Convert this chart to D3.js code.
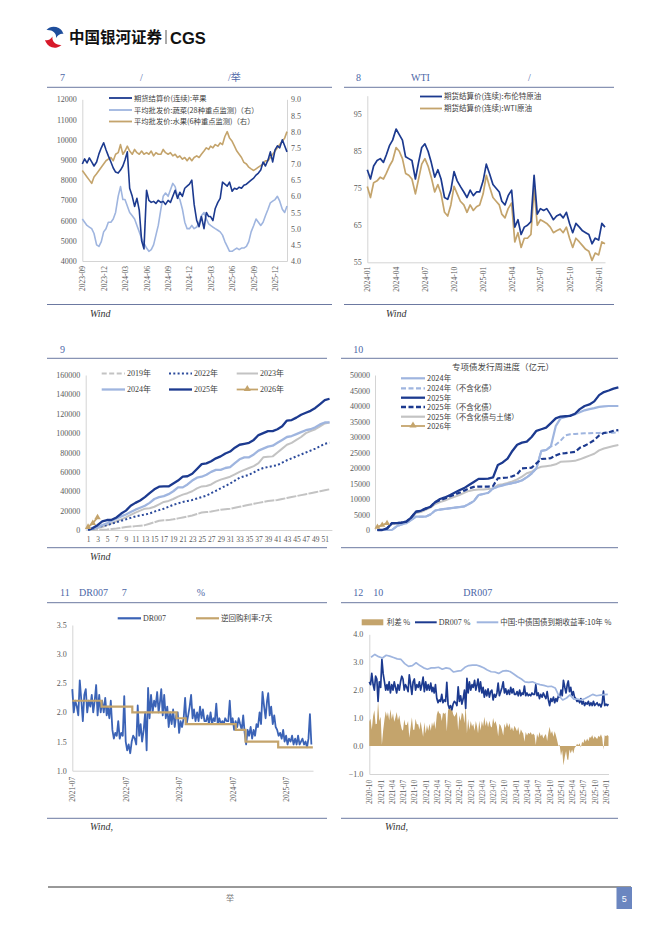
<!DOCTYPE html>
<html>
<head>
<meta charset="utf-8">
<script src="https://cdn.jsdelivr.net/npm/d3@7"></script>
<style>
  body { margin: 0; background: #fff; }
</style>
</head>
<body>
<svg id="page" width="662" height="936"></svg>
<script>
'use strict';

var NAVY = '#1c3a8f';
var LIGHT = '#9fb5df';
var GOLD = '#c4a46c';
var GRAY = '#c3c3c3';
var MID = '#3b63b6';
var TITLE = '#4d67a7';
var RULE = '#5b6a96';
var TICK = '#595959';
var AXIS = '#d4d4d4';
var SERIF = "'Liberation Serif','Noto Sans CJK SC',serif";
var CJK = "'Noto Sans CJK SC','Liberation Serif',sans-serif";

// ---------- data ----------
// Fig 7: apple futures (left), vegetable / fruit wholesale prices (right); 3 points per month from 2023-09
var appleFut = [8800,9050,8850, 9100,8900,8700, 8900,9300,9600, 9850,9500,9200,
  8900,8600,8400, 8350,8500,8700, 9000,9400,7600, 7200,6700,7100, 6500,5000,4600, 7500,7000,6900,
  6950,6850,7000, 6900,6950,6800, 7000,6900,7200, 7500,7100,7400, 7200,7600,7700, 7800,8000,6800,
  6000,5700,6200, 5600,6400,6200, 6200,6000,6600, 6900,7100,7900, 7800,7700,7900, 7450,7600,7550,
  7650,7600,7750, 7800,7900,8000, 8100,8250,8350, 8500,8900,8700, 9000,9400,8900, 9500,9700,9600,
  10000,9700,9400];
var vegPrice = [5.3,5.2,5.1, 5.05,5.0,4.85, 4.5,4.45,4.6, 4.9,5.0,5.2,
  5.2,5.3,5.5, 6.0,6.3,5.9, 5.9,5.7,5.5, 5.4,5.3,5.1, 4.9,4.7,4.55, 4.4,4.3,4.35,
  4.5,4.8,5.1, 5.6,6.0,6.1, 6.0,6.2,6.4, 6.3,6.0,5.9, 5.6,5.2,5.0, 5.0,5.1,5.0,
  5.05,5.2,5.4, 5.5,5.3,5.15, 5.1,5.05,5.0, 4.95,4.9,4.8, 4.6,4.45,4.3, 4.3,4.35,4.4,
  4.35,4.4,4.4, 4.45,4.6,4.9, 5.1,5.3,5.2, 5.1,5.2,5.4, 5.6,5.8,5.85, 5.9,6.0,5.85,
  5.6,5.5,5.7];
var fruitPrice = [6.8,6.7,6.6, 6.5,6.4,6.6, 6.7,6.8,6.9, 7.0,7.1,7.15,
  7.2,7.1,7.3, 7.35,7.6,7.3, 7.4,7.55,7.4, 7.3,7.45,7.35, 7.3,7.4,7.3, 7.35,7.3,7.4,
  7.25,7.35,7.3, 7.3,7.45,7.35, 7.3,7.35,7.25, 7.3,7.2,7.25, 7.15,7.2,7.1, 7.2,7.1,7.2,
  7.25,7.2,7.3, 7.4,7.5,7.45, 7.55,7.5,7.6, 7.55,7.65,7.6, 7.85,8.0,7.8, 7.7,7.55,7.4,
  7.3,7.2,7.05, 7.0,6.9,6.85, 6.8,6.85,6.9, 6.95,7.0,7.1, 7.1,7.2,7.3, 7.4,7.5,7.6,
  7.7,7.8,8.0];
var p7Left = [4000,5000,6000,7000,8000,9000,10000,11000,12000];
var p7Right = [4.0,4.5,5.0,5.5,6.0,6.5,7.0,7.5,8.0,8.5,9.0];
var p7Legend = ['期货结算价(连续):苹果', '平均批发价:蔬菜(28种重点监测)（右）', '平均批发价:水果(6种重点监测)（右）'];

// Fig 8: Brent / WTI, 3 points per month from 2024-01
var brent = [80,77.5,81, 82.5,83,82, 84,86.5,88, 91,89.5,88, 83.5,83,82.5, 77.5,82,86,
  87,85,82, 78,80,77.5, 72.5,72,74.5, 79.5,77,75.5, 74,72.5,74.5, 73,74,74,
  77,81.5,79, 76,75,74, 71.5,70.5,73, 74.5,64.5,66.5, 62.5,64.5,65, 66,78.5,68,
  69.5,69,69.5, 68,66.5,67.5, 68,67,68.5, 65.5,63,65.5, 64.5,63.5,63, 62.5,60,61.5,
  61,65.5,64.5];
var wti = [75.5,72.5,76.5, 77,78,77.5, 79,81,82.5, 86,85,83, 79,78.5,77.5, 73.5,77.5,81.5,
  83,81,78, 74,76,73.5, 68.5,67.5,70.5, 75.5,73.5,71.5, 70.5,68.5,70.5, 69,70,70.5,
  73.5,78.5,75.5, 72.5,71.5,70.5, 68,67,69.5, 71,60.5,63, 59,61.5,61.5, 62.5,75,65,
  66.5,66,65.5, 64.5,63,63.5, 64,63,64.5, 61.5,59,61.5, 60.5,59.5,58.5, 58,55.5,57.5,
  57,60.5,60];
var p8Ticks = [55,65,75,85,95];
var p8Legend = ['期货结算价(连续):布伦特原油', '期货结算价(连续):WTI原油'];

// Fig 9: cumulative weekly issuance
var p9Years = ['2019年','2022年','2023年','2024年','2025年','2026年'];
var p9y2019 = [0,0,200,300,500,1000,1500,2200,3000,3500,4000,4500,5000,6500,8000,9500,10000,10200,11000,12000,
  13000,14000,15000,16500,18000,18500,19000,20000,21000,21500,22000,23000,24000,25000,26000,27000,28000,29000,30000,30500,
  31000,32000,33000,34000,35000,36000,37000,38000,39000,40000,41000,42000];
var p9y2022 = [0,1000,3000,4000,5000,6500,8000,9500,11000,12500,14000,15000,16000,17000,19000,20500,22000,24000,26000,27500,
  29000,30000,31000,32500,34000,35500,38000,40500,43000,45500,48000,51000,54000,55500,57000,59500,62000,64000,65000,66000,
  67000,69500,72000,74000,76000,78000,80000,82000,84000,86500,89000,90000];
var p9y2023 = [0,500,2000,3000,5000,7000,9000,11000,13000,15500,18000,20000,22000,22500,24000,26500,29000,30000,32000,34500,
  36500,38000,40000,43000,45000,45500,47000,50000,52000,53500,55000,57500,60000,62000,64000,66000,69000,75000,75500,76000,
  80000,84000,88000,90000,93000,96000,100000,102000,104000,107000,110000,111000];
var p9y2024 = [0,1500,3000,5000,7000,9500,12000,14000,16000,18500,21000,23000,25000,28000,32000,34000,35000,37000,40000,44000,
  44000,47000,51000,54000,55000,57000,60000,62000,62000,64000,65000,69000,73000,75000,75000,78000,82000,84000,86000,87000,
  90000,93000,96000,97000,99000,101000,103000,104000,106000,109000,111000,111000];
var p9y2025 = [0,2000,5000,9000,10300,10500,13000,17000,20000,25000,28000,30500,34000,38000,42000,44700,45000,45000,48000,51000,
  55000,55500,58000,63000,68000,68800,71000,74000,76000,79000,81000,85000,88000,89000,90000,93000,98000,100000,102000,102000,
  104000,107000,113000,113500,116000,119000,121000,123000,126000,130000,134000,135500];
var p9y2026 = [3000,7000,13000];
var p9Ticks = [0,20000,40000,60000,80000,100000,120000,140000,160000];

// Fig 10: special bond weekly progress
var p10Title = '专项债发行周进度（亿元）';
var p10Legend = ['2024年','2024年（不含化债）','2025年','2025年（不含化债）','2025年（不含化债与土储）','2026年'];
var p10y2024 = [0,0,0,0,1200,1800,2200,3200,4300,4300,4300,5000,6300,6600,6800,7000,7200,7400,7600,8400,
  9300,11300,11600,12000,13400,14000,14400,14800,15100,15500,16000,17000,18200,19900,25500,25800,27000,33500,36000,36500,
  37000,37300,38000,38600,39000,39300,39700,39900,40000,40000,40000];
var p10y2024ex = [0,0,0,0,1200,1800,2200,3200,4300,4300,4300,5000,6300,6600,6800,7000,7200,7400,7600,8400,
  9300,11300,11600,12000,13400,14000,14400,14800,15100,15500,16000,17000,18200,19900,25500,25800,27000,27500,28800,30500,
  30900,31000,31100,31200,31200,31300,31300,31400,31400,31400,31500];
var p10y2025 = [0,0,500,2200,2200,2400,2700,4000,5900,6200,6900,7500,9000,10000,10500,11200,12000,12800,13500,14500,
  15500,16500,16500,16600,17000,21000,21800,23000,25500,27500,28200,28500,30000,32000,32500,33000,34500,36000,36600,36700,
  36800,37500,39000,40000,40500,41500,43500,44500,45000,45600,46000];
var p10y2025ex = [0,0,500,2200,2200,2400,2700,4000,5900,6200,6900,7500,9000,9600,10200,10800,11400,12000,12700,13400,
  13900,14000,14000,14000,14200,16700,16800,17000,17300,18000,19900,20000,20100,21500,22900,23000,23200,24000,24700,24800,
  25000,25200,26500,27200,28000,29000,30500,31300,31500,32000,32200];
var p10y2025ex2 = [0,0,500,2000,2000,2200,2600,3800,5500,5800,6500,7200,8400,9000,9500,10100,10700,11300,12000,12600,
  12900,13100,13100,13200,13400,14500,14800,15200,15700,16300,17200,18300,18800,19800,20400,20600,20800,21200,22000,22100,
  22200,22300,22800,23400,24000,24600,25700,26300,26700,27100,27400];
var p10y2026 = [1000,1600,2200];
var p10Ticks = [0,5000,10000,15000,20000,25000,30000,35000,40000,45000,50000];

// Fig 11/12: DR007, 3 points per month from 2020-10
var dr007 = [2.3,2.2,2.6, 2.2,2.0,2.5, 2.4,1.6,2.3,
  2.1,3.1,2.6, 2.3,2.0,2.2, 2.0,2.3,1.9, 2.2,2.0,2.3, 2.1,1.9,2.2, 2.0,2.3,2.5,
  2.4,2.0,2.2, 2.1,1.95,2.55, 2.2,1.85,2.3, 2.4,2.0,2.2, 2.1,2.3,2.0, 2.2,2.47,1.95,
  2.3,2.0,2.2, 2.0,2.25,1.95, 2.1,1.9,2.2, 1.7,1.55,1.65, 1.6,1.85,1.55, 1.65,1.6,2.28,
  1.5,1.35,1.45, 1.3,1.5,1.6, 1.55,1.45,2.12, 1.6,1.8,1.5, 1.7,2.0,1.35, 2.42,1.9,2.3,
  2.0,2.2,2.1, 2.35,2.0,2.2, 2.4,1.95,2.3, 1.9,2.1,1.75, 2.0,1.8,2.05, 1.75,1.95,2.0,
  1.65,1.85,1.75, 1.9,2.25,1.8, 1.95,2.1,2.3, 1.9,2.05,1.85, 2.0,1.85,2.1, 1.9,2.05,1.85,
  1.85,1.95,1.8, 2.0,1.8,1.9, 1.85,2.15,1.8, 1.9,1.8,1.85, 1.8,1.9,1.85, 1.85,2.2,1.8,
  1.9,1.7,1.85, 1.75,1.9,1.8, 1.7,1.95,1.65, 1.45,1.7,1.6, 1.75,1.55,1.7, 1.6,1.8,1.75,
  2.0,1.8,2.35, 2.1,1.9,2.2, 2.33,1.95,2.1, 1.8,1.95,1.75, 1.7,1.6,1.65, 1.55,1.7,1.5,
  1.6,1.45,1.55, 1.5,1.6,1.45, 1.55,1.45,1.6, 1.45,1.5,1.55, 1.45,1.5,1.4, 1.55,1.97,1.45,
  1.5,1.45,1.5];
var spread = [0.88,0.98,0.58, 1.08,1.28,0.78, 0.8,1.6,0.9,
  1.05,0.05,0.55, 0.95,1.25,1.05, 1.22,0.92,1.32, 0.97,1.17,0.87, 1.02,1.22,0.92, 1.1,0.8,0.6,
  0.55,0.95,0.75, 0.75,0.9,0.3, 0.68,1.03,0.58, 0.58,0.98,0.78, 0.78,0.58,0.88, 0.6,0.33,0.85,
  0.45,0.75,0.55, 0.8,0.55,0.85, 0.7,0.9,0.6, 1.12,1.27,1.17, 1.15,0.9,1.2, 1.15,1.2,0.52,
  1.27,1.42,1.32, 1.35,1.15,1.05, 1.13,1.23,0.56, 1.1,0.9,1.2, 1.12,0.82,1.47, 0.46,0.98,0.58,
  0.9,0.7,0.8, 0.55,0.9,0.7, 0.46,0.91,0.56, 0.9,0.7,1.05, 0.72,0.92,0.67, 0.91,0.71,0.66,
  1.0,0.8,0.9, 0.7,0.35,0.8, 0.73,0.58,0.38, 0.8,0.65,0.85, 0.67,0.82,0.57, 0.68,0.53,0.73,
  0.63,0.53,0.68, 0.4,0.6,0.5, 0.45,0.15,0.5, 0.38,0.48,0.43, 0.5,0.4,0.45, 0.39,0.04,0.44,
  0.3,0.5,0.35, 0.42,0.27,0.37, 0.43,0.18,0.48, 0.69,0.44,0.54, 0.33,0.53,0.38, 0.2,0.0,0.05,
  -0.35,-0.15,-0.7, -0.38,-0.18,-0.48, -0.5,-0.12,-0.27, -0.12,-0.27,-0.07, -0.02,0.08,0.03, 0.1,-0.05,0.15,
  0.1,0.25,0.15, 0.27,0.17,0.32, 0.3,0.4,0.25, 0.35,0.3,0.25, 0.37,0.32,0.42, 0.29,-0.13,0.39,
  0.35,0.4,0.35];
// 10Y CGB yield, monthly from 2020-10
var cgb10y = [3.18,3.28,3.2,
  3.15,3.25,3.22,3.17,3.12,3.1,2.95,2.85,2.88,2.98,2.88,2.8,
  2.75,2.8,2.8,2.82,2.75,2.8,2.77,2.65,2.68,2.7,2.82,2.88,
  2.9,2.9,2.86,2.8,2.72,2.66,2.65,2.6,2.68,2.7,2.67,2.58,
  2.48,2.4,2.3,2.28,2.3,2.24,2.2,2.17,2.13,2.14,2.08,1.8,
  1.65,1.72,1.83,1.68,1.68,1.65,1.7,1.77,1.85,1.8,1.82,1.84,
  1.85];
var repoDates = ['2021-07-01','2022-01-17','2022-08-15','2023-06-13','2023-08-15','2024-07-22','2024-09-27','2025-05-08','2025-12-31'];
var repoRates = [2.2,2.1,2.0,1.9,1.8,1.7,1.5,1.4,1.4];
var p11Ticks = [1.0,1.5,2.0,2.5,3.0,3.5];
var p12Ticks = [-1,0,1,2,3,4];
var p12Legend = ['利差 %', 'DR007 %', '中国:中债国债到期收益率:10年 %'];

// ---------- helpers ----------
var parse = d3.timeParse('%Y-%m-%d');
var intFmt = d3.format('d');
var oneFmt = d3.format('.1f');
var svg = d3.select('#page');

function tenDay(y, m, n) {
  return d3.range(n).map(function(i) { return new Date(y, m + Math.floor(i / 3), 1 + 10 * (i % 3)); });
}

function txt(x, y, s, size, fill, font, anchor) {
  return svg.append('text').attr('x', x).attr('y', y)
    .attr('font-family', font || SERIF).attr('font-size', size)
    .attr('fill', fill || '#333').attr('text-anchor', anchor || 'start').text(s);
}

function frame(x1, x2, titleY, ruleY, bottomY, titles) {
  titles.forEach(function(t) { txt(t[0], titleY, t[1], 10, TITLE); });
  svg.append('line').attr('x1', x1).attr('x2', x2).attr('y1', ruleY).attr('y2', ruleY).attr('stroke', RULE).attr('stroke-width', 0.9);
  svg.append('line').attr('x1', x1).attr('x2', x2).attr('y1', bottomY).attr('y2', bottomY).attr('stroke', RULE).attr('stroke-width', 0.9);
}

function wind(x, y, s) {
  txt(x, y, s, 10, '#333').attr('font-style', 'italic');
}

function styleAxis(g, size) {
  g.attr('font-family', SERIF).attr('font-size', size);
  g.select('.domain').attr('stroke', AXIS);
  g.selectAll('text').attr('fill', TICK);
}

function yAxis(scale, ticks, x, pad, fmt, right) {
  var ax = (right ? d3.axisRight(scale) : d3.axisLeft(scale)).tickValues(ticks).tickSize(0).tickSizeOuter(0).tickPadding(pad).tickFormat(fmt);
  var g = svg.append('g').attr('transform', 'translate(' + x + ',0)').call(ax);
  styleAxis(g, 8);
  return g;
}

function dateAxis(scale, ticks, y, pad, size) {
  var g = svg.append('g').attr('transform', 'translate(0,' + y + ')')
    .call(d3.axisBottom(scale).tickValues(ticks).tickSize(0).tickSizeOuter(0).tickFormat(d3.timeFormat('%Y-%m')));
  styleAxis(g, size);
  g.selectAll('text').attr('transform', 'rotate(-90)').attr('text-anchor', 'end')
    .attr('x', -pad).attr('y', 0).attr('dy', '0.33em');
  return g;
}

function series(parent, xs, ys, xv, yv, color, width, dash) {
  var line = d3.line().x(function(d, i) { return xs(xv[i]); }).y(function(d) { return ys(d); });
  return parent.append('path').datum(yv).attr('d', line).attr('fill', 'none')
    .attr('stroke', color).attr('stroke-width', width).attr('stroke-linejoin', 'round')
    .attr('stroke-dasharray', dash || null);
}

function legendLine(x1, x2, y, color, width, dash, label, font, size) {
  svg.append('line').attr('x1', x1).attr('x2', x2).attr('y1', y).attr('y2', y)
    .attr('stroke', color).attr('stroke-width', width).attr('stroke-dasharray', dash || null);
  txt(x2 + 2, y + 2.8, label, size || 7.5, '#404040', font || CJK);
}

function triangles(parent, xs, ys, xv, yv, size) {
  parent.selectAll(null).data(yv).enter().append('path')
    .attr('d', d3.symbol(d3.symbolTriangle).size(size))
    .attr('transform', function(d, i) { return 'translate(' + xs(xv[i]) + ',' + ys(d) + ')'; })
    .attr('fill', GOLD);
}

// ---------- header / footer ----------
svg.append('path').attr('d', 'M63.5,34 A10,10 0 0 0 46.5,30 C52,29.5 57,33 56,38 C58.5,34.5 61,33.2 63.5,34 Z').attr('fill', '#1f4e9c');
svg.append('path').attr('d', 'M45,40 A10,10 0 0 0 61.5,45 C56,45.5 51.5,41.5 52.5,36.5 C50,40 47.5,40.8 45,40 Z').attr('fill', '#d7192a');
txt(69, 43, '中国银河证券', 15.5, '#111', CJK).attr('font-weight', 'bold');
svg.append('line').attr('x1', 166).attr('x2', 166).attr('y1', 30).attr('y2', 44).attr('stroke', '#555').attr('stroke-width', 1);
txt(170, 43.5, 'CGS', 16.5, '#111', "'Liberation Sans',Arial,sans-serif").attr('font-weight', 'bold');

svg.append('line').attr('x1', 48).attr('x2', 631).attr('y1', 887).attr('y2', 887).attr('stroke', '#333').attr('stroke-width', 1);
txt(230, 901, '举', 8, '#777', CJK, 'middle');
svg.append('rect').attr('x', 616.5).attr('y', 887).attr('width', 15.5).attr('height', 22).attr('fill', '#6b86c0');
txt(624.2, 901.5, '5', 9, '#fff', "'Liberation Sans',sans-serif", 'middle');

// ---------- Fig 7 ----------
frame(47, 332, 80.5, 87.3, 304.5, [[60, '7'], [140, '/'], [228, '/举']]);
wind(90, 316.5, 'Wind');
var d7 = tenDay(2023, 8, appleFut.length);
var x7 = d3.scaleTime().domain([new Date(2023, 8, 1), new Date(2026, 0, 21)]).range([82.3, 287]);
var yL7 = d3.scaleLinear().domain([4000, 12000]).range([261, 99.3]);
var yR7 = d3.scaleLinear().domain([4, 9]).range([261, 99.3]);
yAxis(yL7, p7Left, 82.3, 5.6, intFmt);
yAxis(yR7, p7Right, 287, 4, oneFmt, true);
dateAxis(x7, d3.timeMonth.range(new Date(2023, 8, 1), new Date(2026, 0, 1), 3), 261, 5, 7.5);
var g7 = svg.append('g');
series(g7, x7, yR7, d7, vegPrice, LIGHT, 1.6);
series(g7, x7, yR7, d7, fruitPrice, GOLD, 1.6);
series(g7, x7, yL7, d7, appleFut, NAVY, 1.6);
legendLine(109, 132, 98, NAVY, 1.8, null, p7Legend[0], CJK, 7.3);
legendLine(109, 132, 110, LIGHT, 1.8, null, p7Legend[1], CJK, 7.3);
legendLine(109, 132, 121.5, GOLD, 1.8, null, p7Legend[2], CJK, 7.3);

// ---------- Fig 8 ----------
frame(344, 614, 80.5, 87.3, 304.5, [[356, '8'], [411, 'WTI'], [528, '/']]);
wind(386, 316.5, 'Wind');
var d8 = tenDay(2024, 0, brent.length);
var x8 = d3.scaleTime().domain([new Date(2024, 0, 1), new Date(2026, 0, 21)]).range([367.3, 605]);
var y8 = d3.scaleLinear().domain([55, 100]).range([262.3, 95.7]);
yAxis(y8, p8Ticks, 367.3, 5.5, intFmt);
dateAxis(x8, d3.timeMonth.range(new Date(2024, 0, 1), new Date(2026, 0, 2), 3), 262.3, 4.5, 7.5);
var g8 = svg.append('g');
series(g8, x8, y8, d8, wti, GOLD, 1.7);
series(g8, x8, y8, d8, brent, NAVY, 1.7);
legendLine(420, 442, 96.5, NAVY, 1.8, null, p8Legend[0], CJK, 7.5);
legendLine(420, 442, 108.5, GOLD, 1.8, null, p8Legend[1], CJK, 7.5);

// ---------- Fig 9 ----------
frame(47, 327, 352.5, 358.3, 547.7, [[60, '9']]);
wind(90, 559.5, 'Wind');
var weeks = d3.range(1, 53);
var x9 = d3.scalePoint().domain(weeks).range([85.7, 331.9]).padding(0.5);
var y9 = d3.scaleLinear().domain([0, 160000]).range([530, 375]);
yAxis(y9, p9Ticks, 85.7, 5.5, intFmt);
var ax9 = svg.append('g').attr('transform', 'translate(0,530)')
  .call(d3.axisBottom(x9).tickValues(d3.range(1, 52, 2)).tickSize(0).tickSizeOuter(0).tickPadding(6.5));
styleAxis(ax9, 7.5);
var g9 = svg.append('g');
series(g9, x9, y9, weeks, p9y2019, GRAY, 2, '10,1.2');
series(g9, x9, y9, weeks, p9y2023, GRAY, 2);
series(g9, x9, y9, weeks, p9y2022, '#2b4a9b', 2, '2,2.3');
series(g9, x9, y9, weeks, p9y2024, LIGHT, 2.3);
series(g9, x9, y9, weeks, p9y2025, NAVY, 2.3);
series(g9, x9, y9, weeks.slice(0, 3), p9y2026, GOLD, 1.8);
triangles(g9, x9, y9, weeks.slice(0, 3), p9y2026, 18);
legendLine(101.7, 125, 373.5, GRAY, 2, '5,2.5', p9Years[0], SERIF, 8);
legendLine(169, 192, 373.5, '#2b4a9b', 2, '2,2.3', p9Years[1], SERIF, 8);
legendLine(236.7, 258, 373.5, GRAY, 2, null, p9Years[2], SERIF, 8);
legendLine(101.7, 125, 389.5, LIGHT, 2.3, null, p9Years[3], SERIF, 8);
legendLine(169, 192, 389.5, NAVY, 2.3, null, p9Years[4], SERIF, 8);
legendLine(236.7, 258, 389.5, GOLD, 1.8, null, p9Years[5], SERIF, 8);
svg.append('path').attr('d', d3.symbol(d3.symbolTriangle).size(22)).attr('transform', 'translate(247.3,389)').attr('fill', GOLD);

// ---------- Fig 10 ----------
frame(341, 618, 352.5, 358.3, 547.7, [[353.3, '10']]);
svg.append('clipPath').attr('id', 'clip10').append('rect').attr('x', 330).attr('y', 360).attr('width', 290.5).attr('height', 190);
txt(503, 370, p10Title, 8.5, '#444', CJK, 'middle');
var w10 = d3.range(1, 53);
var x10 = d3.scalePoint().domain(w10).range([375, 625.6]).padding(0.5);
var y10 = d3.scaleLinear().domain([0, 50000]).range([530, 375]);
yAxis(y10, p10Ticks, 375, 5, intFmt);
var ax10 = svg.append('g').attr('transform', 'translate(0,530)').attr('clip-path', 'url(#clip10)')
  .call(d3.axisBottom(x10).tickValues(d3.range(1, 52, 2)).tickSize(0).tickSizeOuter(0).tickPadding(6.5));
styleAxis(ax10, 7.5);
var g10 = svg.append('g').attr('clip-path', 'url(#clip10)');
var wk51 = d3.range(1, 52);
series(g10, x10, y10, wk51, p10y2025ex2, GRAY, 2);
series(g10, x10, y10, wk51, p10y2024ex, LIGHT, 2, '5,2.5');
series(g10, x10, y10, wk51, p10y2024, LIGHT, 2.2);
series(g10, x10, y10, wk51, p10y2025ex, NAVY, 2.2, '5,2.5');
series(g10, x10, y10, wk51, p10y2025, NAVY, 2.3);
series(g10, x10, y10, wk51.slice(0, 3), p10y2026, GOLD, 1.8);
triangles(g10, x10, y10, wk51.slice(0, 3), p10y2026, 16);
var lg10 = [[LIGHT, null, 2.2], [LIGHT, '5,2.5', 2.2], [NAVY, null, 2.3], [NAVY, '5,2.5', 2.3], [GRAY, null, 2.2], [GOLD, null, 1.8]];
var ly10 = [378.3, 388.3, 397.7, 407, 416.7, 426];
lg10.forEach(function(s, i) { legendLine(401, 425, ly10[i], s[0], s[2], s[1], p10Legend[i], CJK, 7.5); });
svg.append('path').attr('d', d3.symbol(d3.symbolTriangle).size(22)).attr('transform', 'translate(413,425.5)').attr('fill', GOLD);

// ---------- Fig 11 ----------
frame(47, 327, 596, 602.7, 818.3, [[60, '11'], [79, 'DR007'], [121.7, '7'], [196.7, '%']]);
wind(90, 830, 'Wind,');
var dDr = tenDay(2020, 9, dr007.length);
var start11 = new Date(2021, 6, 1), end11 = new Date(2025, 11, 31);
var idx11 = d3.range(dr007.length).filter(function(i) { return dDr[i] >= start11 && dDr[i] <= end11; });
var x11 = d3.scaleTime().domain([start11, new Date(2026, 0, 1)]).range([72.3, 313]);
var y11 = d3.scaleLinear().domain([1, 3.5]).range([770.7, 625]);
yAxis(y11, p11Ticks, 72.3, 5.6, oneFmt);
dateAxis(x11, d3.timeYear.range(new Date(2021, 0, 1), new Date(2026, 0, 1)).map(function(d) { return new Date(d.getFullYear(), 6, 1); }), 770.7, 6, 7.5);
var g11 = svg.append('g');
series(g11, x11, y11, idx11.map(function(i) { return dDr[i]; }), idx11.map(function(i) { return dr007[i]; }), MID, 1.8);
var rd = repoDates.map(parse);
g11.append('path').datum(repoRates)
  .attr('d', d3.line().curve(d3.curveStepAfter).x(function(d, i) { return x11(rd[i]); }).y(function(d) { return y11(d); }))
  .attr('fill', 'none').attr('stroke', GOLD).attr('stroke-width', 2.2);
legendLine(117.7, 141, 618.3, MID, 2.2, null, 'DR007', SERIF, 8);
legendLine(196, 219, 618.3, GOLD, 2.2, null, '逆回购利率:7天', CJK, 7.5);

// ---------- Fig 12 ----------
frame(341, 618, 596, 602.7, 818.3, [[353.3, '12'], [373.3, '10'], [463.3, 'DR007']]);
wind(385, 830, 'Wind,');
var x12 = d3.scaleTime().domain([new Date(2020, 9, 1), new Date(2026, 0, 21)]).range([369.3, 608.5]);
var y12 = d3.scaleLinear().domain([-1, 4]).range([774, 634.3]);
yAxis(y12, p12Ticks, 369.3, 6, oneFmt);
dateAxis(x12, d3.timeMonth.range(new Date(2020, 9, 1), new Date(2026, 0, 2), 3), 774, 6, 7.2);
var g12 = svg.append('g');
g12.append('path').datum(spread)
  .attr('d', d3.area().x(function(d, i) { return x12(dDr[i]); }).y0(y12(0)).y1(function(d) { return y12(d); }))
  .attr('fill', GOLD);
series(g12, x12, y12, dDr, dr007, NAVY, 1.7);
var d10y = cgb10y.map(function(v, i) { return new Date(2020, 9 + i, 15); });
series(g12, x12, y12, d10y, cgb10y, LIGHT, 1.7);
svg.append('rect').attr('x', 361.7).attr('y', 619.3).attr('width', 21.6).attr('height', 6).attr('fill', GOLD);
txt(386.7, 625, p12Legend[0], 7.5, '#404040', CJK);
legendLine(415, 436.7, 622.3, NAVY, 2, null, p12Legend[1], SERIF, 8);
legendLine(476.7, 498.3, 622.3, LIGHT, 2, null, p12Legend[2], CJK, 7.5);
</script>
</body>
</html>
